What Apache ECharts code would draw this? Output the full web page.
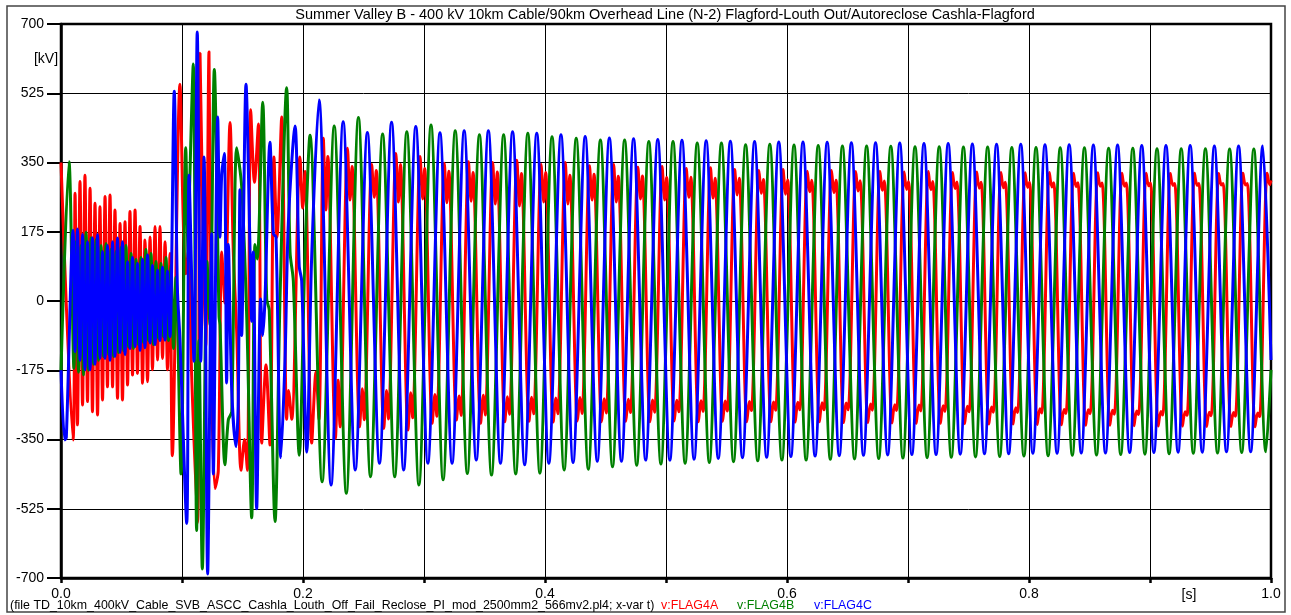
<!DOCTYPE html>
<html><head><meta charset="utf-8">
<script src="https://cdn.jsdelivr.net/npm/echarts@6/dist/echarts.min.js"></script>
<style>html,body{margin:0;padding:0;background:#fff}#c{width:1291px;height:615px}</style>
</head><body><div id="c"></div><script>
const titleText = 'Summer Valley B - 400 kV 10km Cable/90km Overhead Line (N-2) Flagford-Louth Out/Autoreclose Cashla-Flagford';
const footerText = '(file TD_10km_400kV_Cable_SVB_ASCC_Cashla_Louth_Off_Fail_Reclose_PI_mod_2500mm2_566mv2.pl4; x-var t)';
const seriesNames = ['v:FLAG4A', 'v:FLAG4B', 'v:FLAG4C'];
const seriesColors = ['#ff0000', '#008000', '#0000ff'];
const yUnit = '[kV]';
const xUnit = '[s]';

// Phase A (red): time [s], voltage [kV]
const phaseA = [
[0,350],[0.0099,-351],
[0.0116,272],[0.0136,-313],[0.0157,302],[0.0178,-263],[0.0198,318],[0.0219,-254],[0.0240,285],[0.0260,-280],[0.0281,247],[0.0302,-288],[0.0322,238],[0.0343,-250],[0.0364,264],[0.0384,-217],[0.0405,268],[0.0426,-217],[0.0446,230],[0.0467,-246],[0.0488,196],[0.0508,-250],[0.0529,200],[0.0550,-212],[0.0570,226],[0.0591,-187],[0.0612,230],[0.0632,-183],[0.0653,188],[0.0674,-208],[0.0694,154],[0.0715,-204],[0.0736,162],[0.0756,-174],[0.0777,188],[0.0798,-149],[0.0818,188],[0.0839,-145],[0.0860,150],[0.0880,-174],[0.0901,120],
[0.0920,-391],[0.0983,548],[0.1011,198],[0.1031,69],[0.1052,124],[0.1080,-189],[0.1128,-560],[0.1149,626],[0.1176,124],[0.1196,-115],[0.1223,629],[0.1245,-207],[0.1273,-474],[0.1300,-428],[0.1328,124],[0.1355,-5],[0.1397,451],[0.1424,124],[0.1452,-78],[0.1488,-428],[0.1517,-350],[0.1540,-428],[0.1568,483],[0.1599,300],[0.1631,447],[0.1659,-359],[0.1694,-161],[0.1727,-364],[0.1760,364],[0.1785,161],[0.1824,465],[0.1865,-299],[0.1880,-226],[0.1907,-299],[0.1975,364],[0.1998,235],[0.2017,327],[0.2072,-359],[0.2107,-180],[0.2132,-300],
[0.2168,411],[0.2189,230],[0.2205,365],[0.2268,-347],[0.2290,-200],[0.2306,-318],
[0.2368,386],[0.2389,255],[0.2405,340],[0.2468,-318],[0.2490,-222],[0.2506,-300],
[0.2568,345],[0.2589,262],[0.2605,330],[0.2668,-322],[0.2690,-226],[0.2706,-298],
[0.2768,373],[0.2789,250],[0.2805,345],[0.2868,-326],[0.2890,-232],[0.2906,-295],
[0.2968,365],[0.2989,258],[0.3005,335],[0.3068,-309],[0.3090,-236],[0.3106,-291],
[0.3168,348],[0.3189,248],[0.3205,328],[0.3268,-301],[0.3290,-240],[0.3306,-289],
[0.3368,352],[0.3389,252],[0.3405,325],[0.3468,-309],[0.3490,-238],[0.3506,-288],
[0.3568,350],[0.3589,245],[0.3605,326],[0.3668,-305],[0.3690,-242],[0.3706,-286],
[0.3768,356],[0.3789,240],[0.3805,322],[0.3868,-304],[0.3890,-243],[0.3906,-285],
[0.3968,345],[0.3989,250],[0.4005,325],[0.4068,-306],[0.4090,-245],[0.4106,-285],
[0.4168,350],[0.4189,245],[0.4205,318],[0.4268,-303],[0.4290,-244],[0.4306,-284],
[0.4368,342],[0.4389,255],[0.4405,320],[0.4468,-305],[0.4490,-247],[0.4506,-283],
[0.4568,345],[0.4589,250],[0.4605,315],[0.4668,-304],[0.4690,-248],[0.4706,-282],
[0.4768,338],[0.4789,258],[0.4805,316],[0.4868,-305],[0.4890,-250],[0.4906,-281],
[0.4968,340],[0.4989,255],[0.5005,312],[0.5068,-303],[0.5090,-251],[0.5106,-280],
[0.5168,335],[0.5189,262],[0.5205,313],[0.5268,-305],[0.5290,-252],[0.5306,-279],
[0.5368,337],[0.5389,260],[0.5405,310],[0.5468,-304],[0.5490,-253],[0.5506,-278],
[0.5568,332],[0.5589,268],[0.5605,310],[0.5668,-305],[0.5690,-254],[0.5706,-277],
[0.5768,330],[0.5789,272],[0.5805,307],[0.5868,-305],[0.5890,-255],[0.5906,-276],
[0.5968,332],[0.5989,270],[0.6005,306],[0.6068,-306],[0.6090,-256],[0.6106,-275],
[0.6168,328],[0.6189,276],[0.6205,305],[0.6268,-305],[0.6290,-257],[0.6306,-275],
[0.6368,330],[0.6389,274],[0.6405,305],[0.6468,-307],[0.6490,-258],[0.6506,-275],
[0.6568,327],[0.6589,278],[0.6605,304],[0.6668,-307],[0.6690,-260],[0.6706,-276],
[0.6768,328],[0.6789,280],[0.6805,303],[0.6868,-308],[0.6890,-262],[0.6906,-277],
[0.6968,326],[0.6989,282],[0.7005,302],[0.7068,-309],[0.7090,-263],[0.7106,-278],
[0.7168,327],[0.7189,281],[0.7205,302],[0.7268,-309],[0.7290,-265],[0.7306,-279],
[0.7368,325],[0.7389,284],[0.7405,301],[0.7468,-310],[0.7490,-266],[0.7506,-280],
[0.7568,326],[0.7589,285],[0.7605,300],[0.7668,-311],[0.7690,-268],[0.7706,-281],
[0.7768,325],[0.7789,286],[0.7805,300],[0.7868,-311],[0.7890,-270],[0.7906,-282],
[0.7968,324],[0.7989,287],[0.8005,300],[0.8068,-312],[0.8090,-272],[0.8106,-283],
[0.8168,325],[0.8189,288],[0.8205,299],[0.8268,-313],[0.8290,-274],[0.8306,-284],
[0.8368,323],[0.8389,289],[0.8405,299],[0.8468,-314],[0.8490,-275],[0.8506,-285],
[0.8568,324],[0.8589,290],[0.8605,298],[0.8668,-314],[0.8690,-276],[0.8706,-286],
[0.8768,323],[0.8789,290],[0.8805,298],[0.8868,-315],[0.8890,-278],[0.8906,-287],
[0.8968,323],[0.8989,291],[0.9005,298],[0.9068,-316],[0.9090,-279],[0.9106,-288],
[0.9168,322],[0.9189,292],[0.9205,297],[0.9268,-316],[0.9290,-280],[0.9306,-289],
[0.9368,323],[0.9389,292],[0.9405,297],[0.9468,-317],[0.9490,-281],[0.9506,-290],
[0.9568,322],[0.9589,293],[0.9605,297],[0.9668,-317],[0.9690,-282],[0.9706,-291],
[0.9768,323],[0.9789,293],[0.9805,297],[0.9868,-318],[0.9890,-283],[0.9906,-292],
[0.9968,323],[0.9989,294],[1,305]
];

// Phase B (green)
const phaseB = [
[0,-175],[0.0066,352],[0.0107,-170],
[0.0124,150],[0.0145,-180],[0.0165,140],[0.0186,-187],[0.0207,174],[0.0227,-175],[0.0248,160],[0.0269,-160],[0.0289,155],[0.0310,-150],[0.0331,140],[0.0351,-140],[0.0372,145],[0.0393,-135],[0.0413,130],[0.0434,-140],[0.0455,125],[0.0475,-130],[0.0496,135],[0.0517,-125],[0.0537,140],[0.0558,-116],[0.0579,120],[0.0599,-120],[0.0620,105],[0.0640,-110],[0.0661,110],[0.0682,-105],[0.0702,130],[0.0723,-100],[0.0744,120],[0.0764,-110],[0.0785,100],[0.0806,-95],[0.0826,95],[0.0847,-90],[0.0868,110],[0.0888,-100],[0.0909,90],[0.0930,-120],
[0.0950,60],[0.0992,-437],[0.1031,387],[0.1052,100],[0.1060,250],[0.1093,599],[0.1121,-580],[0.1140,-100],[0.1168,-677],[0.1207,100],[0.1231,-60],[0.1267,585],[0.1306,-40],[0.1314,-60],[0.1355,-414],[0.1383,-300],[0.1411,-280],[0.1452,387],[0.1493,290],[0.1535,-41],[0.1576,-548],[0.1603,143],[0.1622,106],[0.1667,502],[0.1700,5],[0.1721,-23],[0.1769,-557],[0.1810,5],[0.1865,539],[0.1893,124],[0.1920,51],[0.1969,-390],[0.2017,124],
[0.2058,419],[0.2158,-457],[0.2258,442],[0.2358,-486],[0.2458,464],[0.2558,-444],[0.2658,422],[0.2758,-444],
[0.2858,428],[0.2958,-465],[0.3058,445],[0.3158,-452],[0.3258,430],[0.3358,-436],[0.3458,420],[0.3558,-440],
[0.3658,420],[0.3758,-437],[0.3858,424],[0.3958,-435],[0.4058,415],[0.4158,-427],[0.4258,411],[0.4358,-425],
[0.4458,407],[0.4558,-419],[0.4658,407],[0.4758,-415],[0.4858,403],[0.4958,-412],[0.5058,403],[0.5158,-410],
[0.5258,399],[0.5358,-408],[0.5458,399],[0.5558,-406],[0.5658,395],[0.5758,-404],[0.5858,396],[0.5958,-402],
[0.6058,394],[0.6158,-402],[0.6258,393],[0.6358,-400],[0.6458,392],[0.6558,-399],[0.6658,392],[0.6758,-398],
[0.6858,391],[0.6958,-397],[0.7058,390],[0.7158,-396],[0.7258,390],[0.7358,-395],[0.7458,389],[0.7558,-394],
[0.7658,389],[0.7758,-393],[0.7858,388],[0.7958,-392],[0.8058,388],[0.8158,-391],[0.8258,387],[0.8358,-390],
[0.8458,387],[0.8558,-389],[0.8658,386],[0.8758,-388],[0.8858,386],[0.8958,-387],[0.9058,385],[0.9158,-386],
[0.9258,385],[0.9358,-385],[0.9458,385],[0.9558,-384],[0.9658,384],[0.9758,-383],[0.9858,384],[0.9958,-381],
[1,-174]
];

// Phase C (blue)
const phaseC = [
[0,-175],[0.0031,-351],[0.0044,-345],[0.0099,179],
[0.0116,-128],[0.0136,182],[0.0157,-150],[0.0178,168],[0.0198,-174],[0.0219,150],[0.0240,-174],[0.0260,160],[0.0281,-160],[0.0302,168],[0.0322,-145],[0.0343,125],[0.0364,-145],[0.0384,140],[0.0405,-150],[0.0426,150],[0.0446,-140],[0.0467,159],[0.0488,-130],[0.0508,150],[0.0529,-135],[0.0550,99],[0.0570,-120],[0.0591,110],[0.0612,-115],[0.0632,95],[0.0653,-125],[0.0674,105],[0.0694,-118],[0.0715,116],[0.0736,-106],[0.0756,90],[0.0777,-110],[0.0798,78],[0.0818,-100],[0.0839,85],[0.0860,-99],[0.0880,76],[0.0901,-90],
[0.0936,530],[0.0962,32],[0.0983,-97],[0.1039,-562],[0.1058,318],[0.1099,-152],[0.1126,680],[0.1155,-152],[0.1182,364],[0.1212,-690],[0.1245,170],[0.1259,-437],[0.1295,465],[0.1314,161],[0.1328,318],[0.1350,373],[0.1369,-207],[0.1383,143],[0.1411,-226],[0.1446,-368],[0.1465,-253],[0.1479,281],[0.1493,-87],[0.1529,548],[0.1562,134],[0.1576,-51],[0.1589,124],[0.1617,-525],[0.1650,5],[0.1667,-87],[0.1686,5],[0.1727,401],[0.1755,170],[0.1777,161],[0.1816,-396],[0.1851,-152],[0.1879,198],[0.1934,442],[0.1969,87],[0.1989,51],[0.2031,-382],[0.2072,115],
[0.2132,508],[0.2232,-465],[0.2332,453],[0.2432,-427],[0.2532,426],[0.2632,-410],[0.2732,452],[0.2832,-427],
[0.2932,441],[0.3032,-410],[0.3132,425],[0.3232,-410],[0.3332,430],[0.3432,-402],[0.3532,430],[0.3632,-410],
[0.3732,428],[0.3832,-414],[0.3932,424],[0.4032,-410],[0.4132,420],[0.4232,-408],[0.4332,416],[0.4432,-405],
[0.4532,412],[0.4632,-405],[0.4732,410],[0.4832,-402],[0.4932,408],[0.5032,-402],[0.5132,406],[0.5232,-400],
[0.5332,405],[0.5432,-398],[0.5532,404],[0.5632,-396],[0.5732,403],[0.5832,-395],[0.5932,402],[0.6032,-393],
[0.6132,402],[0.6232,-392],[0.6332,401],[0.6432,-391],[0.6532,400],[0.6632,-390],[0.6732,400],[0.6832,-389],
[0.6932,399],[0.7032,-388],[0.7132,398],[0.7232,-388],[0.7332,398],[0.7432,-387],[0.7532,397],[0.7632,-386],
[0.7732,396],[0.7832,-386],[0.7932,396],[0.8032,-385],[0.8132,395],[0.8232,-385],[0.8332,395],[0.8432,-384],
[0.8532,394],[0.8632,-384],[0.8732,394],[0.8832,-383],[0.8932,393],[0.9032,-383],[0.9132,393],[0.9232,-382],
[0.9332,393],[0.9432,-382],[0.9532,392],[0.9632,-381],[0.9732,392],[0.9832,-381],[0.9932,392],
[1,-149]
];

const FONT = '"Liberation Sans", Arial, Helvetica, sans-serif';
const chart = echarts.init(document.getElementById('c'), null, {renderer: 'canvas'});

const dataSets = [phaseA, phaseB, phaseC];
const series = dataSets.map((d, i) => ({
  name: seriesNames[i],
  type: 'line',
  data: d,
  showSymbol: false,
  symbol: 'none',
  smooth: 0.3,
  silent: true,
  clip: true,
  lineStyle: {color: seriesColors[i], width: 3},
  itemStyle: {color: seriesColors[i]},
  z: 2 + i
}));

chart.setOption({
  animation: false,
  backgroundColor: '#ffffff',
  grid: {left: 61, right: 20, top: 24, bottom: 37, show: true, borderColor: '#000', borderWidth: 2.5, backgroundColor: 'transparent'},
  xAxis: {
    type: 'value', min: 0, max: 1, interval: 0.1,
    axisLine: {show: true, onZero: false, lineStyle: {color: '#000', width: 2.5}},
    axisTick: {show: true, inside: false, length: 5, lineStyle: {color: '#000', width: 2.5}},
    axisLabel: {color: '#000', fontSize: 14, fontFamily: FONT, margin: 9,
      formatter: v => (Math.round(v * 10) % 2 === 0 ? v.toFixed(1) : '')},
    splitLine: {show: true, lineStyle: {color: '#000', width: 1}}
  },
  yAxis: {
    type: 'value', min: -700, max: 700, interval: 175,
    axisLine: {show: true, onZero: false, lineStyle: {color: '#000', width: 2.5}},
    axisTick: {show: true, inside: false, length: 14, lineStyle: {color: '#000', width: 2}},
    axisLabel: {color: '#000', fontSize: 14, fontFamily: FONT, margin: 17, formatter: v => String(v)},
    splitLine: {show: true, lineStyle: {color: '#000', width: 1}}
  },
  series: series,
  graphic: [
    {type: 'rect', shape: {x: 7, y: 6, width: 1278, height: 606}, style: {fill: 'none', stroke: '#444', lineWidth: 1.5}, silent: true, z: 0},
    {type: 'text', x: 665, y: 15, style: {text: titleText, font: '14.5px ' + FONT, fill: '#000', textAlign: 'center', verticalAlign: 'middle', textVerticalAlign: 'middle'}},
    {type: 'text', x: 46, y: 59, style: {text: yUnit, font: '14px ' + FONT, fill: '#000', textAlign: 'center', verticalAlign: 'middle', textVerticalAlign: 'middle'}},
    {type: 'text', x: 1189, y: 595, style: {text: xUnit, font: '14px ' + FONT, fill: '#000', textAlign: 'center', verticalAlign: 'middle', textVerticalAlign: 'middle'}},
    {type: 'text', x: 10, y: 606, style: {text: footerText, font: '12.4px ' + FONT, fill: '#000', textAlign: 'left', verticalAlign: 'middle', textVerticalAlign: 'middle'}},
    {type: 'text', x: 661, y: 606, style: {text: seriesNames[0], font: '12.4px ' + FONT, fill: seriesColors[0], textAlign: 'left', verticalAlign: 'middle', textVerticalAlign: 'middle'}},
    {type: 'text', x: 737, y: 606, style: {text: seriesNames[1], font: '12.4px ' + FONT, fill: seriesColors[1], textAlign: 'left', verticalAlign: 'middle', textVerticalAlign: 'middle'}},
    {type: 'text', x: 814, y: 606, style: {text: seriesNames[2], font: '12.4px ' + FONT, fill: seriesColors[2], textAlign: 'left', verticalAlign: 'middle', textVerticalAlign: 'middle'}}
  ]
});
</script></body></html>
